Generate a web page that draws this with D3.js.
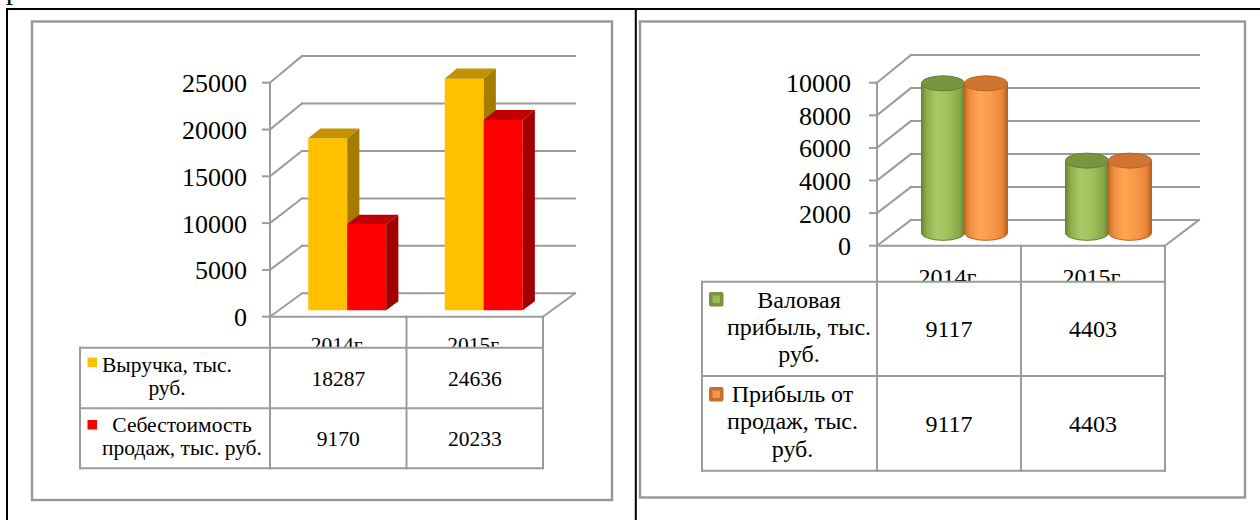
<!DOCTYPE html>
<html>
<head>
<meta charset="utf-8">
<script src="https://cdn.jsdelivr.net/npm/d3@7"></script>
<style>
  html, body { margin: 0; padding: 0; background: #fff; }
  svg { display: block; }
  svg text { font-family: "Liberation Serif", "Times New Roman", "DejaVu Serif", serif; }
</style>
</head>
<body>
<svg id="chart" width="1260" height="520"></svg>
<script>
// ---- data ----
const categories = ["2014г.", "2015г."];

const revenue = [18287, 24636];
const costOfSales = [9170, 20233];
const revenueTicks = [0, 5000, 10000, 15000, 20000, 25000];
const revenueNames = [["Выручка, тыс.", "руб."], ["Себестоимость", "продаж, тыс. руб."]];

const grossProfit = [9117, 4403];
const salesProfit = [9117, 4403];
const profitTicks = [0, 2000, 4000, 6000, 8000, 10000];
const profitNames = [["Валовая", "прибыль, тыс.", "руб."], ["Прибыль от", "продаж, тыс.", "руб."]];

// ---- drawing ----
const svg = d3.select("#chart");
const FONT = "Liberation Serif, Times New Roman, DejaVu Serif, serif";
const GRID = "#9b9b9b";

// page rules around the two charts
const page = svg.append("g");
page.append("text").attr("x", 6).attr("y", -1).attr("font-family", FONT)
  .attr("font-size", 28).attr("fill", "#000").text("р");
page.append("line").attr("x1", 6).attr("x2", 1260).attr("y1", 9).attr("y2", 9)
  .attr("stroke", "#000").attr("stroke-width", 2);
page.append("line").attr("x1", 7).attr("x2", 7).attr("y1", 9).attr("y2", 520)
  .attr("stroke", "#000").attr("stroke-width", 2);
page.append("line").attr("x1", 635.8).attr("x2", 635.8).attr("y1", 9).attr("y2", 520)
  .attr("stroke", "#000").attr("stroke-width", 2);

// chart frames
svg.append("rect").attr("x", 32).attr("y", 21.5).attr("width", 580).attr("height", 478.5)
  .attr("fill", "none").attr("stroke", "#979797").attr("stroke-width", 2.4);
svg.append("rect").attr("x", 640).attr("y", 21.5).attr("width", 605).attr("height", 476)
  .attr("fill", "none").attr("stroke", "#979797").attr("stroke-width", 2.4);

// 3D wall + floor + value axis; returns projection helpers
function drawWalls(g, cfg, ticks) {
  const max = d3.max(ticks);
  const yF = d3.scaleLinear().domain([0, max]).range([cfg.y0f, cfg.ymf]);
  const yB = d3.scaleLinear().domain([0, max]).range([cfg.y0b, cfg.ymb]);
  const xBand = d3.scaleBand().domain(categories).range([cfg.xL, cfg.xR]);
  const yAt = (v, f) => yF(v) * (1 - f) + yB(v) * f;
  const xAt = (x, f) => x + cfg.dx * f;

  const line = (x1, y1, x2, y2) => g.append("line")
    .attr("x1", x1).attr("y1", y1).attr("x2", x2).attr("y2", y2)
    .attr("stroke", GRID).attr("stroke-width", 2).attr("stroke-linecap", "square");

  ticks.forEach(t => {
    line(cfg.xL + cfg.dx, yB(t), cfg.xR + cfg.dx, yB(t));   // back wall gridline
    line(cfg.xL, yF(t), cfg.xL + cfg.dx, yB(t));            // side wall gridline
    line(cfg.xL - 7, yF(t), cfg.xL, yF(t));                 // tick mark
    g.append("text").attr("x", cfg.labelRight).attr("y", yF(t) + 9.5)
      .attr("text-anchor", "end").attr("font-family", FONT).attr("font-size", 26)
      .attr("fill", "#000").text(t);
  });
  line(cfg.xL, yF(0), cfg.xL, yF(max));
  line(cfg.xL, yF(0), cfg.xR, yF(0));
  line(cfg.xR, yF(0), cfg.xR + cfg.dx, yB(0));

  return { yF, yB, xBand, yAt, xAt };
}

// data table beneath the category axis
function drawTable(g, cfg, proj, rows, names, keyDraw) {
  const xb = proj.xBand;
  // category captions, partly hidden by the table body
  categories.forEach(c => {
    g.append("text").attr("x", xb(c) + xb.bandwidth() / 2).attr("y", cfg.catBaseline)
      .attr("text-anchor", "middle").attr("font-family", FONT).attr("font-size", cfg.fontSize)
      .attr("fill", "#000").text(c);
  });
  g.append("rect").attr("x", cfg.left).attr("y", cfg.rowY[0])
    .attr("width", cfg.xR - cfg.left).attr("height", cfg.rowY[cfg.rowY.length - 1] - cfg.rowY[0])
    .attr("fill", "#fff");

  const line = (x1, y1, x2, y2) => g.append("line")
    .attr("x1", x1).attr("y1", y1).attr("x2", x2).attr("y2", y2)
    .attr("stroke", GRID).attr("stroke-width", 2).attr("stroke-linecap", "square");
  const yTop = proj.yF(0), yBot = cfg.rowY[cfg.rowY.length - 1];
  [cfg.xL, ...categories.slice(1).map(c => xb(c)), cfg.xR].forEach(x => line(x, yTop, x, yBot));
  cfg.rowY.forEach(y => line(cfg.left, y, cfg.xR, y));
  line(cfg.left, cfg.rowY[0], cfg.left, yBot);

  rows.forEach((vals, r) => {
    vals.forEach((v, i) => {
      g.append("text").attr("x", xb(categories[i]) + xb.bandwidth() / 2).attr("y", cfg.valueBaseline[r])
        .attr("text-anchor", "middle").attr("font-family", FONT).attr("font-size", cfg.fontSize)
        .attr("fill", "#000").text(v);
    });
    names[r].forEach((ln, k) => {
      g.append("text").attr("x", cfg.nameCenter[r]).attr("y", cfg.nameBaseline[r][k])
        .attr("text-anchor", "middle").attr("font-family", FONT).attr("font-size", cfg.fontSize)
        .attr("fill", "#000").text(ln);
    });
    keyDraw(g, r);
  });
}

// ---------- left chart: revenue and cost of sales (3D columns) ----------
const L = {
  xL: 270, xR: 543, dx: 32,
  y0f: 316.7, ymf: 82.7, y0b: 293.3, ymb: 56,
  labelRight: 247
};
const gL = svg.append("g");
const pL = drawWalls(gL, L, revenueTicks);

const columnColors = [
  { front: "#FFC000", top: "#C29200", side: "#A67C00" },
  { front: "#FF0000", top: "#C00000", side: "#A00000" }
];
const colFront = 0.28, colBack = 0.66;
[revenue, costOfSales].forEach((series, s) => {
  series.forEach((v, i) => {
    const bw = pL.xBand.bandwidth() / 3.5;
    const cx = pL.xBand(categories[i]) + pL.xBand.bandwidth() / 2;
    const x0 = cx - bw + s * bw, x1 = x0 + bw;
    const P = (x, val, f) => [pL.xAt(x, f), pL.yAt(val, f)];
    const poly = pts => "M" + pts.map(p => p.join(",")).join("L") + "Z";
    const c = columnColors[s];
    gL.append("path").attr("d", poly([P(x0, 0, colFront), P(x1, 0, colFront), P(x1, v, colFront), P(x0, v, colFront)]))
      .attr("fill", c.front);
    gL.append("path").attr("d", poly([P(x0, v, colFront), P(x1, v, colFront), P(x1, v, colBack), P(x0, v, colBack)]))
      .attr("fill", c.top);
    gL.append("path").attr("d", poly([P(x1, 0, colFront), P(x1, v, colFront), P(x1, v, colBack), P(x1, 0, colBack)]))
      .attr("fill", c.side);
  });
});

drawTable(gL, {
  xL: L.xL, xR: L.xR, left: 80,
  rowY: [347.7, 408.3, 468.3],
  catBaseline: 352, fontSize: 21.5,
  valueBaseline: [386, 445.7],
  nameCenter: [167, 182],
  nameBaseline: [[371.7, 395], [431.7, 455]]
}, pL, [revenue, costOfSales], revenueNames, (g, r) => {
  g.append("rect").attr("x", 87.5).attr("y", r === 0 ? 357.5 : 420)
    .attr("width", 9.5).attr("height", 9.5).attr("fill", columnColors[r].front);
});

// ---------- right chart: gross profit and profit from sales (3D cylinders) ----------
const R = {
  xL: 877, xR: 1165, dx: 34,
  y0f: 245.7, ymf: 82.7, y0b: 220, ymb: 55,
  labelRight: 851
};
const gR = svg.append("g");
const pR = drawWalls(gR, R, profitTicks);

const defs = svg.append("defs");
const cylColors = [
  { stops: ["#6c8932", "#8dae4e", "#a8ca66", "#a0c25d", "#89a94b", "#66822d"], top: "#789640", edge: "#657f2f", key: "#9bbb59", keyEdge: "#77933c" },
  { stops: ["#c46a26", "#ee8c3e", "#ffa553", "#fb9b4a", "#e8853a", "#b65f1e"], top: "#cf7532", edge: "#b9621f", key: "#f79646", keyEdge: "#c46f30" }
];
cylColors.forEach((c, s) => {
  const grad = defs.append("linearGradient").attr("id", "cyl" + s)
    .attr("x1", "0%").attr("x2", "100%").attr("y1", "0%").attr("y2", "0%");
  [0, 12, 35, 60, 88, 100].forEach((o, k) => grad.append("stop")
    .attr("offset", o + "%").attr("stop-color", c.stops[k]));
});

const cylDepth = 0.5, ry = 7.5;
[grossProfit, salesProfit].forEach((series, s) => {
  series.forEach((v, i) => {
    const bw = pR.xBand.bandwidth() / 3.35;
    const cx0 = pR.xBand(categories[i]) + pR.xBand.bandwidth() / 2;
    const cx = pR.xAt(cx0 - bw / 2 + s * bw, cylDepth) - 1.5;
    const rx = bw / 2;
    const yb = pR.yAt(0, cylDepth), yt = pR.yAt(v, cylDepth);
    const c = cylColors[s];
    const body = `M${cx - rx},${yt} L${cx - rx},${yb} A${rx},${ry} 0 0 0 ${cx + rx},${yb} L${cx + rx},${yt} Z`;
    gR.append("path").attr("d", body).attr("fill", `url(#cyl${s})`)
      .attr("stroke", c.edge).attr("stroke-width", 1);
    gR.append("ellipse").attr("cx", cx).attr("cy", yt).attr("rx", rx).attr("ry", ry)
      .attr("fill", c.top).attr("stroke", c.edge).attr("stroke-width", 1);
  });
});

drawTable(gR, {
  xL: R.xL, xR: R.xR, left: 702,
  rowY: [281.7, 376, 470.7],
  catBaseline: 284.5, fontSize: 24,
  valueBaseline: [336.7, 431.7],
  nameCenter: [799, 792.5],
  nameBaseline: [[308.3, 335, 361.7], [401.7, 429, 456.7]]
}, pR, [grossProfit, salesProfit], profitNames, (g, r) => {
  const c = cylColors[r];
  const y = r === 0 ? 292 : 387;
  g.append("rect").attr("x", 709).attr("y", y).attr("width", 14.5).attr("height", 14.5)
    .attr("rx", 2).attr("fill", c.keyEdge);
  g.append("rect").attr("x", 712.5).attr("y", y + 3.5).attr("width", 7.5).attr("height", 7.5)
    .attr("fill", c.key);
});
</script>
</body>
</html>
